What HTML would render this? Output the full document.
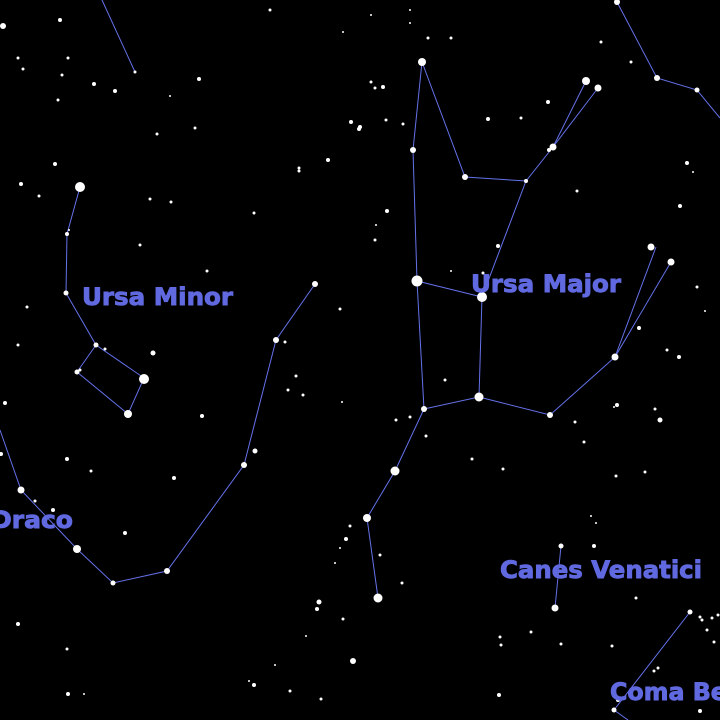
<!DOCTYPE html>
<html><head><meta charset="utf-8"><style>
html,body{margin:0;padding:0;background:#000;}
svg{display:block;}
text{font-family:"DejaVu Sans","Liberation Sans",sans-serif;font-weight:bold;fill:#6069e0;stroke:#6069e0;stroke-width:0.9;font-size:24px;}
</style></head><body>
<svg id="sky" width="720" height="720" viewBox="0 0 720 720">
<rect width="720" height="720" fill="#000"/>
<g id="lines"></g>
<g id="stars"></g>
<g>
<text x="82" y="305" textLength="151" lengthAdjust="spacingAndGlyphs">Ursa Minor</text>
<text x="471" y="292" textLength="150" lengthAdjust="spacingAndGlyphs">Ursa Major</text>
<text x="-9" y="528" textLength="82" lengthAdjust="spacingAndGlyphs">Draco</text>
<text x="500" y="578" textLength="202" lengthAdjust="spacingAndGlyphs">Canes Venatici</text>
<text x="610" y="700" textLength="214" lengthAdjust="spacingAndGlyphs">Coma Berenices</text>
</g>
</svg>
<script>
const constellationNames = ["draco-top","boo-top","uma-handle","uma-bowl-top","uma-bowl","uma-legs","umi","draco","cvn","com"];
const constellationPaths = [
 [[102,0],[135,72]],
 [[617,2],[657,78],[697,90],[720,118]],
 [[422,62],[413,150],[417,281],[424,409],[395,471],[367,518],[378,598]],
 [[422,62],[465,177],[526,181],[553,147],[586,81]],
 [[598,88],[553,147]],
 [[526,181],[482,297],[417,281]],
 [[482,297],[479,397],[424,409]],
 [[479,397],[550,415],[615,357],[656,247]],
 [[615,357],[671,262]],
 [[80,187],[67,234],[66,293],[96,345],[144,378],[128,414],[77,372],[96,345]],
 [[0,430],[21,490],[77,549],[113,583],[167,571],[244,465],[276,340],[315,284]],
 [[561,546],[555,608]],
 [[690,612],[614,710],[628,720]]
];
const starX = [3,60,68,18,23,62,94,115,135,58,199,170,195,157,270,343,351,359,328,299,299,55,21,80,39,150,171,254,67,69,140,207,66,27,18,96,105,153,315,276,285,340,
144,77,80,128,5,202,1,67,91,174,244,255,21,35,53,125,77,113,167,296,288,303,342,350,346,340,335,319,317,343,306,353,18,67,68,84,275,249,254,290,321,
617,371,410,410,428,451,422,601,631,697,657,371,383,375,386,403,488,521,548,586,598,413,360,553,549,465,526,577,687,693,680,375,387,376,498,483,417,482,451,651,671,697,705,639,667,679,615,
424,395,367,378,479,550,445,410,396,426,472,503,584,617,614,660,655,575,616,596,591,645,561,594,555,380,402,636,690,700,702,712,718,707,714,612,658,654,501,500,531,561,499,618,614,700];
const starY = [26,20,58,58,69,75,84,91,72,100,79,96,128,134,10,32,122,129,160,168,171,164,184,187,196,199,202,213,234,230,245,271,293,307,345,345,349,353,284,340,342,309,
379,372,370,414,403,416,454,459,471,478,465,451,490,501,510,533,549,583,571,376,390,395,402,526,539,548,563,602,609,619,636,661,624,649,694,694,665,681,685,691,699,
2,15,10,23,38,38,62,42,62,90,78,82,87,88,120,124,119,118,102,81,88,150,127,147,150,177,181,191,163,172,206,240,211,225,246,273,281,297,271,247,262,287,311,328,350,357,357,
409,471,518,598,397,415,380,417,420,436,459,469,442,405,407,420,409,422,476,523,516,472,546,546,608,555,583,598,612,617,620,618,615,630,642,646,668,671,645,637,632,644,695,700,710,711];
const starMag = [3,2,1.5,1.5,1.5,1.5,2,2,1.5,1.5,2,1,1.5,1.5,1.5,1,2,2,2,1.5,1.5,2,2,5,1.5,1.5,1.5,1.5,2,1,1.5,1.5,2.5,1.5,1.5,2.5,1.5,2.5,3,3,1.5,1.5,
5,2.5,1.5,4,2,2,2,2,1.5,2,3,2.5,3.5,1.5,2,2,4,2.5,3,1.5,1.5,1.5,1,1.5,2,1,1,2.5,2,1.5,1,3,2,1.5,2,1,1,1,2,1.5,1.5,
3,1,1,1,1.5,1.5,4,1.5,1.5,2.5,3,1.5,2,1.5,1.5,1.5,2,1.5,2,4,3.5,3,2,3.5,2,3,2,1.5,2,1,2,1.5,2,1,2,1.5,5.5,5,1,3.5,3.5,1.5,1,2,1.5,2,3.5,
3,4.5,4,4.5,4.5,3,1.5,1.5,1.5,1.5,1.5,1.5,1.5,2,1,2.5,1.5,1.5,1.5,1,1,1.5,2.5,2,3.5,1.5,1.5,1.5,2.5,1.5,1.5,1.5,1.5,1.5,1.5,1.5,1.5,1.5,1.5,1.5,1.5,1.5,2,2,2.5,2];
const NS='http://www.w3.org/2000/svg';
const lg=document.getElementById('lines');
constellationPaths.forEach((p,i)=>{
  const pl=document.createElementNS(NS,'polyline');
  pl.setAttribute('points',p.map(q=>q.join(',')).join(' '));
  pl.setAttribute('fill','none');pl.setAttribute('stroke','#6472ea');pl.setAttribute('stroke-width','1');
  
  
  lg.appendChild(pl);
});
const sg=document.getElementById('stars');
for(let i=0;i<starX.length;i++){
  const c=document.createElementNS(NS,'circle');
  c.setAttribute('cx',starX[i]);c.setAttribute('cy',starY[i]);c.setAttribute('r',starMag[i]);c.setAttribute('fill','#fff');
  
  
  sg.appendChild(c);
}
</script>
</body></html>
